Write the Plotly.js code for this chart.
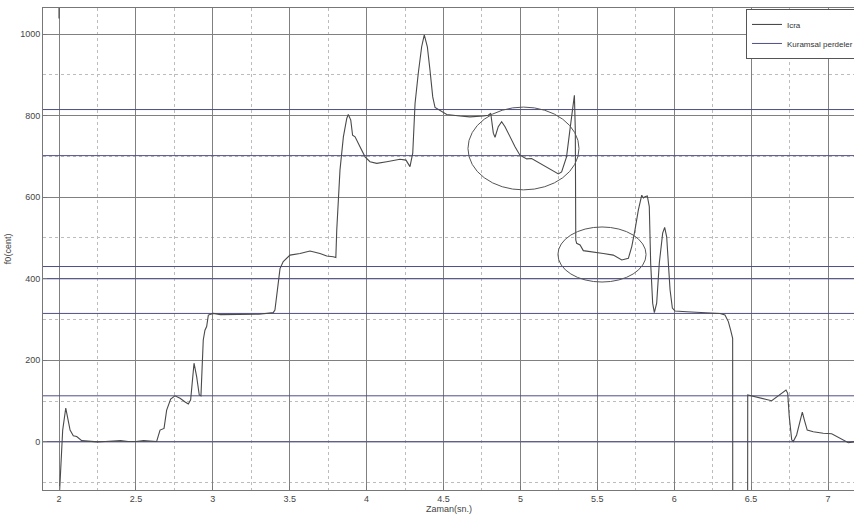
<!DOCTYPE html>
<html>
<head>
<meta charset="utf-8">
<script src="https://cdn.plot.ly/plotly-3.0.1.min.js"></script>
<style>html,body{margin:0;padding:0;background:#fff;}#chart{width:854px;height:516px;}</style>
</head>
<body>
<div id="chart"></div>
<script>
// Performance pitch curve (time in seconds, f0 in cents); null = gap
const timeSec = [2.0, 2.0, null,
  2.0, 2.013, 2.024, 2.044, 2.058, 2.072, 2.093, 2.115, 2.148, 2.2, 2.25, 2.3, 2.35, 2.4, 2.45, 2.5, 2.55, 2.6, 2.635,
  2.657, 2.683, 2.70, 2.726, 2.754, 2.787, 2.82, 2.841, 2.856, 2.878, 2.895, 2.912, 2.923, 2.938, 2.949, 2.960, 2.971, 3.003,
  3.05, 3.1, 3.2, 3.3, 3.393, 3.404, 3.42, 3.437, 3.458, 3.502, 3.567, 3.632, 3.697, 3.741, 3.783, 3.80,
  3.806, 3.827, 3.849, 3.871, 3.881, 3.897, 3.909, 3.925, 3.957, 3.99, 4.022, 4.066, 4.131, 4.217, 4.256, 4.282, 4.30,
  4.315, 4.336, 4.358, 4.375, 4.395, 4.412, 4.43, 4.445, 4.477, 4.521, 4.607, 4.672, 4.759, 4.791, 4.802,
  4.807, 4.824, 4.835, 4.856, 4.878, 4.90, 4.932, 4.965, 4.997, 5.041, 5.073, 5.127, 5.192, 5.247, 5.268, 5.30, 5.322, 5.34, 5.351, 5.357,
  5.36, 5.366, 5.388, 5.409, 5.453, 5.539, 5.604, 5.659, 5.702, 5.724, 5.745, 5.767, 5.789, 5.80, 5.81, 5.825, 5.838,
  5.847, 5.86, 5.871, 5.886, 5.903, 5.925, 5.938, 5.951, 5.973, 5.988, 6.005, 6.081, 6.168, 6.254, 6.298, 6.33, 6.352, 6.367, 6.38,
  6.381, 6.477, 6.478, 6.536, 6.60, 6.634, 6.677, 6.727, 6.738, 6.748, 6.764, 6.774, 6.796, 6.818, 6.833, 6.846, 6.865,
  6.904, 6.969, 7.024, 7.057, 7.10, 7.132, 7.169];
const f0Cent = [1100, 1038, null,
  -150, -44, 29, 83, 60, 29, 15, 13, 3, 1, 0, 1, 2, 3, 1, 1, 3, 2, 1,
  29, 33, 78, 105, 113, 107, 98, 93, 103, 193, 160, 115, 113, 250, 274, 283, 311, 315,
  312, 312, 312, 313, 317, 323, 372, 425, 442, 458, 462, 468, 462, 456, 454, 452,
  520, 667, 748, 793, 803, 789, 752, 748, 724, 699, 687, 683, 687, 693, 691, 675, 708,
  830, 904, 969, 998, 969, 912, 846, 820, 812, 803, 799, 797, 799, 801, 804,
  806, 757, 747, 773, 785, 773, 748, 724, 703, 694, 695, 683, 668, 657, 662, 699, 765, 822, 850, 765,
  495, 487, 483, 469, 466, 462, 458, 446, 450, 479, 520, 569, 605, 598, 601, 603, 577,
  438, 340, 317, 340, 438, 512, 526, 503, 373, 328, 321, 319, 317, 315, 315, 311, 295, 274, 254,
  -400, -400, 115, 109, 104, 101, 113, 127, 119, 62, 5, 1, 17, 54, 73, 54, 29,
  25, 21, 20, 13, 3, -2, 0];

// Theoretical fret positions (cents)
const fretCents = [0, 113, 315, 400, 430, 702, 815];

// Highlight ellipses: [x0, x1, y0, y1]
const ellipses = [[4.659, 5.381, 618, 821], [5.244, 5.817, 392, 527]];

const xRange = [1.896, 7.169];
const yRange = [-118, 1064];
const xTickVals = [2, 2.5, 3, 3.5, 4, 4.5, 5, 5.5, 6, 6.5, 7];
const xTickText = ['2', '2.5', '3', '3.5', '4', '4.5', '5', '5.5', '6', '6.5', '7'];
const yTickVals = [0, 200, 400, 600, 800, 1000];
const yTickText = ['0', '200', '400', '600', '800', '1000'];

const labels = {curve: 'Icra', frets: 'Kuramsal perdeler', x: 'Zaman(sn.)', y: 'f0(cent)'};

// Build fret line trace across the x range
const fretX = [], fretY = [];
fretCents.forEach(c => { fretX.push(xRange[0], xRange[1], null); fretY.push(c, c, null); });

const curveTrace = {x: timeSec, y: f0Cent, type: 'scatter', mode: 'lines', name: labels.curve,
   line: {color: '#4a4a4a', width: 1.1}, connectgaps: false, legendrank: 1};
const fretTrace = {x: fretX, y: fretY, type: 'scatter', mode: 'lines', name: labels.frets,
   line: {color: '#4e4e8a', width: 1}, connectgaps: false, legendrank: 2};
const data = [fretTrace, curveTrace];

const shapes = ellipses.map(e => ({type: 'circle', xref: 'x', yref: 'y', x0: e[0], x1: e[1], y0: e[2], y1: e[3],
  line: {color: '#555', width: 1}, layer: 'above'}));

const font = {family: 'Liberation Sans, Arial, sans-serif', size: 9, color: '#444'};

const layout = {
  width: 854, height: 516,
  margin: {l: 43, r: 0, t: 8, b: 26, autoexpand: false},
  paper_bgcolor: '#fff', plot_bgcolor: '#fff',
  font: font,
  showlegend: true,
  legend: {x: 0.8668, y: 0.998, xanchor: 'left', yanchor: 'top', bgcolor: '#fff', bordercolor: '#555', borderwidth: 1,
           font: {family: font.family, size: 8, color: '#333'}, tracegroupgap: 0, itemwidth: 30,
           traceorder: 'normal'},
  xaxis: {range: xRange, tickvals: xTickVals, ticktext: xTickText, showgrid: true, gridcolor: '#808080', gridwidth: 1,
          zeroline: false, showline: true, linecolor: '#777', linewidth: 1, mirror: true, ticks: 'inside', ticklen: 4, tickcolor: '#777',
          tickfont: font, ticklabelstandoff: 0,
          minor: {dtick: 0.25, tick0: 2.25, showgrid: true, griddash: 'dot', gridcolor: '#bcbcbc', gridwidth: 1, ticks: ''}},
  yaxis: {range: yRange, tickvals: yTickVals, ticktext: yTickText, showgrid: true, gridcolor: '#808080', gridwidth: 1,
          zeroline: false, showline: true, linecolor: '#777', linewidth: 1, mirror: true, ticks: 'inside', ticklen: 4, tickcolor: '#777',
          tickfont: font, ticklabelstandoff: 0,
          minor: {dtick: 100, tick0: -100, showgrid: true, griddash: 'dot', gridcolor: '#bcbcbc', gridwidth: 1, ticks: ''}},
  shapes: shapes,
  annotations: [
    {text: labels.x, xref: 'paper', yref: 'paper', x: 0.5, y: -0.024, xanchor: 'center', yanchor: 'top', showarrow: false,
     font: {family: font.family, size: 9, color: '#444'}},
    {text: labels.y, xref: 'paper', yref: 'paper', x: -0.043, y: 0.5, xanchor: 'center', yanchor: 'middle', showarrow: false,
     textangle: -90, font: {family: font.family, size: 9, color: '#444'}}
  ]
};

Plotly.newPlot('chart', data, layout, {displayModeBar: false, staticPlot: true});
</script>
</body>
</html>
